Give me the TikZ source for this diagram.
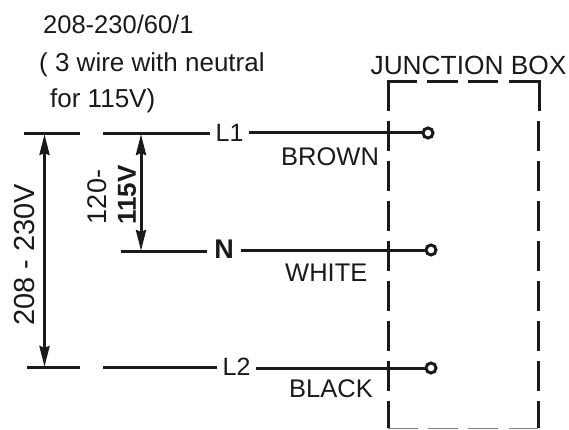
\documentclass[tikz,border=0pt]{standalone}
\usepackage{fontspec}
\setmainfont{Liberation Sans}
\usetikzlibrary{arrows.meta}
\definecolor{ink}{HTML}{1A1A1A}
\tikzset{
  x=1pt,y=-1pt,
  wire/.style={draw=ink,line width=3pt},
  box/.style={draw=ink,line width=3pt},
  dim/.style={draw=ink,line width=3pt,{Stealth[length=21pt,width=10pt,inset=2pt]}-{Stealth[length=21pt,width=10pt,inset=2pt]}},
  term/.style={circle,draw=ink,line width=3pt,fill=white,minimum size=10pt,inner sep=0pt},
  lab/.style={text=ink,inner sep=0pt,font=\fontsize{25.5}{28}\selectfont},
  wl/.style={text=ink,inner sep=5pt,font=\fontsize{25}{28}\selectfont}
}
\begin{document}
\begin{tikzpicture}
\useasboundingbox (0,0) rectangle (569,430);
% junction box
\draw[box] (388,111) -- (388,82) -- (417,82);
\draw[box] (427,82) -- (458,82);
\draw[box] (468,82) -- (498,82);
\draw[box] (509,82) -- (539,82) -- (539,111);
\foreach \y in {121,161,201,241,281,321,361}{
  \draw[box] (388,\y) -- (388,\y+30);
  \draw[box] (538.5,\y) -- (538.5,\y+30);
}
\draw[box] (388,401) -- (388,428);
\draw[box] (538.5,401) -- (538.5,428);
\foreach \x/\e in {388/418,428/458,468/498,509/538}{
  \draw[draw=gray,line width=1pt] (\x,428) -- (\e,428);
}
% terminals and labels
\node[term] (t1) at (428,133) {};
\node[term] (t2) at (431,250) {};
\node[term] (t3) at (431,368) {};
\node[wl] (l1) at (229.5,132.5) {L1};
\node[wl,inner sep=7pt,font=\bfseries\fontsize{27}{30}\selectfont] (n) at (224,249.5) {N};
\node[wl] (l2) at (236.5,367) {L2};
\coordinate (a1) at (24,133.5);
\coordinate (a2) at (80,133.5);
\coordinate (b1) at (103,133.5);
\coordinate (c1) at (121,251);
\coordinate (d1) at (27,367.5);
\coordinate (d2) at (80,367.5);
\coordinate (e1) at (103,367.5);
\draw[wire] (a1) -- (a2);
\draw[wire] (b1) -- (l1.west |- b1);
\draw[wire] (l1.east |- t1) -- (t1.west);
\draw[wire] (c1) -- (n.west |- c1);
\draw[wire] (n.east |- t2) -- (t2.west);
\draw[wire] (d1) -- (d2);
\draw[wire] (e1) -- (l2.west |- e1);
\draw[wire] (l2.east |- t3) -- (t3.west);
% dimensions
\coordinate (u1) at (44.5,134);
\coordinate (u2) at (44.5,367);
\coordinate (v1) at (141,134);
\coordinate (v2) at (141,251);
\draw[dim] (u1) -- (u2);
\draw[dim] (v1) -- (v2);
% text
\node[lab,anchor=west] (t) at (43,24) {208-230/60/1};
\node[lab,anchor=west,font=\fontsize{26}{28}\selectfont] (p) at (39,65) {( 3 wire with neutral};
\node[lab,anchor=west,font=\fontsize{26}{28}\selectfont] (q) at (50,101) {for 115V)};
\node[lab,font=\fontsize{26.3}{28}\selectfont] (j) at (468.5,65) {JUNCTION BOX};
\node[lab,anchor=west] (br) at (281,157) {BROWN};
\node[lab,anchor=west] (wh) at (285,273) {WHITE};
\node[lab,anchor=west] (bk) at (289,389) {BLACK};
\node[lab,rotate=90,font=\fontsize{29}{31}\selectfont] (r1) at (24.5,255) {208 - 230V};
\node[lab,rotate=90,font=\fontsize{27}{29}\selectfont] (r2) at (97,197) {120-};
\node[lab,rotate=90,font=\bfseries\fontsize{26}{28}\selectfont] (r3) at (127,195) {115V};
\end{tikzpicture}
\end{document}
